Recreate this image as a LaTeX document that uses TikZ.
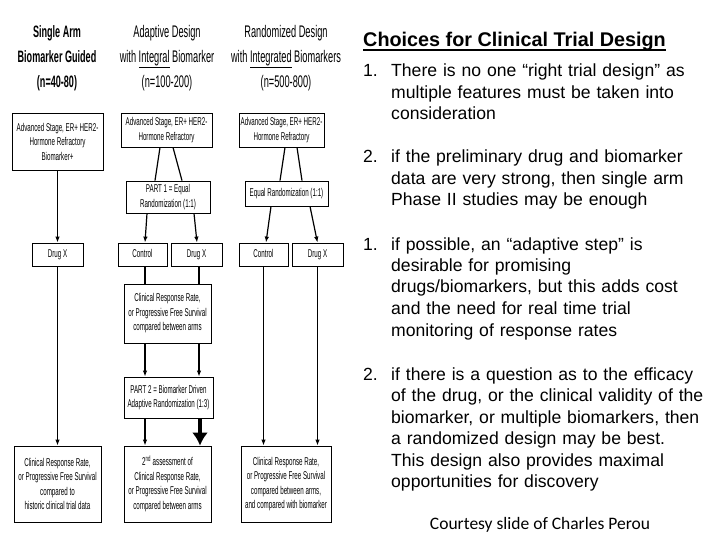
\documentclass[tikz,border=0pt]{standalone}
\usepackage{fontspec}
\setmainfont{Liberation Sans}
\newfontfamily\narrowfont[FakeStretch=0.55]{Liberation Sans}
\newfontfamily\calfont{Carlito}
\usetikzlibrary{arrows.meta}
\begin{document}
\begin{tikzpicture}[x=1pt,y=-1pt,
  box/.style={draw, line width=0.8pt, inner sep=0pt, align=center,
    font=\narrowfont\fontsize{11.3}{14.5}\selectfont},
  small/.style={text height=8pt, text depth=2.5pt},
  hdr/.style={align=center, inner sep=0pt, font=\narrowfont\fontsize{16.8}{25}\selectfont},
  hdrb/.style={align=center, inner sep=0pt, font=\narrowfont\bfseries\fontsize{16.5}{25}\selectfont},
  arr/.style={line width=1.2pt, -{Latex[length=6pt,width=4.5pt]}},
  ln/.style={line width=1.2pt},
  bigarr/.style={line width=3.5pt, -{Latex[length=13pt,width=16pt]}},
  txt/.style={anchor=base west, inner sep=0pt, align=left, text width=330pt,
    font=\fontsize{17.6}{21.5}\selectfont},
  num/.style={anchor=base west, inner sep=0pt, font=\fontsize{17.6}{21.5}\selectfont}]
\useasboundingbox (0,0) rectangle (720,540);

% headers
\node[hdrb] (h1) at (57,58) {Single Arm\\Biomarker Guided\\(n=40-80)};
\node[hdr] (h2) at (167,58) {Adaptive Design\\with \underline{Integral} Biomarker\\(n=100-200)};
\node[hdr] (h3) at (286,58) {Randomized Design\\with \underline{Integrated} Biomarkers\\(n=500-800)};

% left column
\node[box, minimum width=91, minimum height=57] (a1) at (57.5,141.5) {Advanced Stage, ER+ HER2-\\Hormone Refractory\\Biomarker+};
\node[box, small, minimum width=51, minimum height=23] (a2) at (57.5,254.5) {Drug X};
\node[box, minimum width=87, minimum height=76] (a3) at (57.5,484) {Clinical Response Rate,\\or Progressive Free Survival\\compared to\\historic clinical trial data};

% middle column
\node[box, minimum width=91, minimum height=34] (b1) at (166.5,130) {Advanced Stage, ER+ HER2-\\Hormone Refractory};
\node[box, minimum width=84, minimum height=32] (b2) at (168,197) {PART 1 = Equal\\Randomization (1:1)};
\node[box, small, minimum width=49, minimum height=23] (b3) at (142.5,254.5) {Control};
\node[box, small, minimum width=51, minimum height=23] (b4) at (196.5,254.5) {Drug X};
\node[box, minimum width=87, minimum height=59] (b5) at (167.5,313.5) {Clinical Response Rate,\\or Progressive Free Survival\\compared between arms};
\node[box, minimum width=89, minimum height=41] (b6) at (168.5,397.5) {PART 2 = Biomarker Driven\\Adaptive Randomization (1:3)};
\node[box, minimum width=87, minimum height=76] (b7) at (167.5,484) {2\textsuperscript{nd} assessment of\\Clinical Response Rate,\\or Progressive Free Survival\\compared between arms};

% right column
\node[box, minimum width=85, minimum height=34] (c1) at (281.5,130) {Advanced Stage, ER+ HER2-\\Hormone Refractory};
\node[box, small, minimum width=83, minimum height=25] (c2) at (286.5,193.5) {Equal Randomization (1:1)};
\node[box, small, minimum width=49, minimum height=23] (c3) at (263.5,254.5) {Control};
\node[box, small, minimum width=51, minimum height=23] (c4) at (317.5,254.5) {Drug X};
\node[box, minimum width=90, minimum height=76] (c5) at (286,484) {Clinical Response Rate,\\or Progressive Free Survival\\compared between arms,\\and compared with biomarker};

% connectors left
\draw[arr] (a1.south) -- (a2.north);
\draw[arr] (a2.south) -- (a3.north);

% connectors middle
\draw[ln] ([xshift=-6.5]b1.south) -- ([xshift=-13]b2.north);
\draw[ln] ([xshift=6.5]b1.south) -- ([xshift=14]b2.north);
\draw[arr] ([xshift=-21]b2.south) -- ([xshift=2.5]b3.north);
\draw[arr] ([xshift=26]b2.south) -- ([xshift=0.5]b4.north);
\draw[ln] ([xshift=2.5]b3.south) -- ([xshift=-22.5]b5.north);
\draw[ln] ([xshift=2.5]b4.south) -- ([xshift=31.5]b5.north);
\draw[arr] ([xshift=-22.5]b5.south) -- ([xshift=-23.5]b6.north);
\draw[arr] ([xshift=31.5]b5.south) -- ([xshift=30.5]b6.north);
\draw[arr] ([xshift=-23.5]b6.south) -- ([xshift=-22.5]b7.north);
\draw[bigarr] ([xshift=31.5]b6.south) -- ([xshift=32.5]b7.north);

% connectors right
\draw[ln] ([xshift=3.5]c1.south) -- ([xshift=-6.5]c2.north);
\draw[ln] ([xshift=15.5]c1.south) -- ([xshift=15.5]c2.north);
\draw[arr] ([xshift=-15.5]c2.south) -- ([xshift=2.5]c3.north);
\draw[arr] ([xshift=23.5]c2.south) -- (c4.north);
\draw[arr] (c3.south) -- ([xshift=-22.5]c5.north);
\draw[arr] (c4.south) -- ([xshift=31.5]c5.north);

% right-hand text
\node[anchor=base west, inner sep=0pt, font=\bfseries\fontsize{19.8}{23}\selectfont] (title) at (363,47) {Choices for Clinical Trial Design};
\draw[line width=1.5pt] ([yshift=-3pt]title.base west) -- ([yshift=-3pt]title.base east);

\node[num] (n1) at (363,77) {1.};
\node[txt] (t1) at (391,77) {There is no one “right trial design” as\\multiple features must be taken into\\consideration};
\node[num] (n2) at (363,163) {2.};
\node[txt] (t2) at (391,163) {if the preliminary drug and biomarker\\data are very strong, then single arm\\Phase II studies may be enough};
\node[num] (n3) at (363,250) {1.};
\node[txt] (t3) at (391,250) {if possible, an “adaptive step” is\\desirable for promising\\drugs/biomarkers, but this adds cost\\and the need for real time trial\\monitoring of response rates};
\node[num] (n4) at (363,380) {2.};
\node[txt] (t4) at (391,380) {if there is a question as to the efficacy\\of the drug, or the clinical validity of the\\biomarker, or multiple biomarkers, then\\a randomized design may be best.\\This design also provides maximal\\opportunities for discovery};

\node[anchor=base, inner sep=0pt, font=\calfont\fontsize{17.5}{20}\selectfont] (credit) at (540,529) {Courtesy slide of Charles Perou};
\end{tikzpicture}
\end{document}
